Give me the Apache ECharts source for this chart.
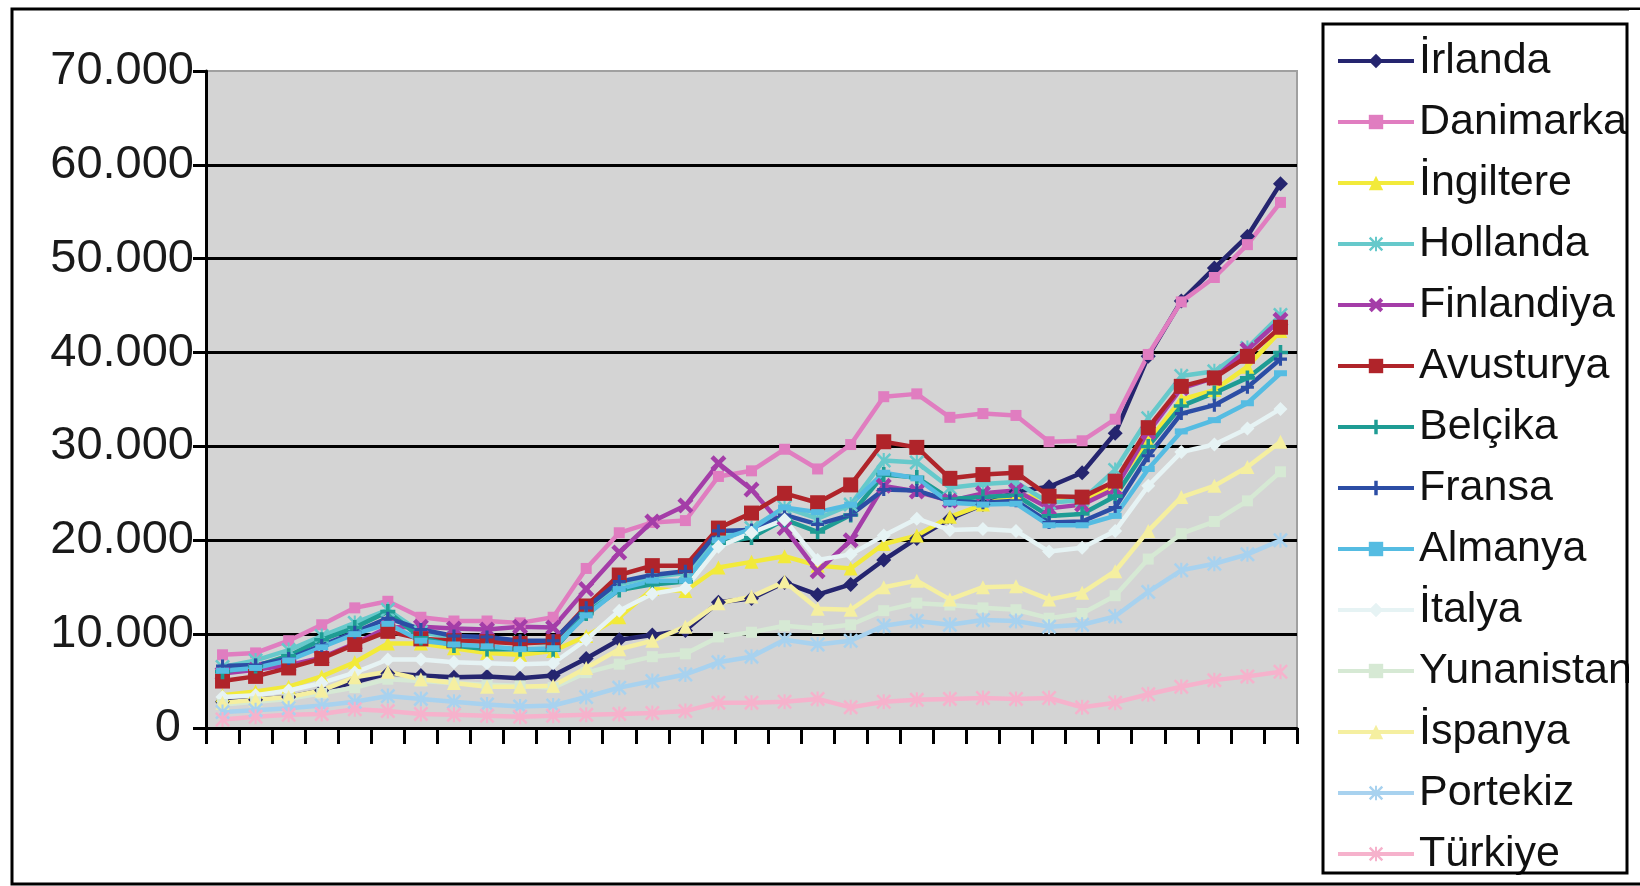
<!DOCTYPE html>
<html>
<head>
<meta charset="utf-8">
<script src="https://cdn.jsdelivr.net/npm/echarts@6/dist/echarts.min.js"></script>
<style>
html,body{margin:0;padding:0;background:#fff;}
#c{width:1640px;height:886px;}
</style>
</head>
<body>
<div id="c"></div>
<script>
const years = [];
for (let y = 1975; y <= 2007; y++) years.push(String(y));
const categories = years;

const seriesNames = ['İrlanda','Danimarka','İngiltere','Hollanda','Finlandiya','Avusturya','Belçika','Fransa','Almanya','İtalya','Yunanistan','İspanya','Portekiz','Türkiye'];

const irlanda    = [2800,3000,3300,4000,4900,5800,5600,5400,5500,5300,5600,7400,9400,9900,10400,13400,13800,15500,14200,15300,17900,20200,22300,23800,25200,25700,27200,31400,39600,45500,49000,52400,58000];
const danimarka  = [7800,8000,9300,11000,12800,13500,11800,11400,11400,11200,11800,17000,20800,21900,22100,26800,27400,29700,27600,30200,35300,35600,33100,33500,33300,30500,30600,32900,39800,45400,48000,51500,56000];
const ingiltere  = [3500,3900,4400,5500,7000,9000,9000,8500,8000,7800,8200,9800,11800,14800,14600,17100,17700,18300,17300,17000,19600,20500,22500,23800,24800,24500,24200,26000,30500,35000,36000,38500,42300];
const hollanda   = [6500,7200,8300,9800,11200,12600,10200,9600,9400,9100,9000,12600,15300,16100,16500,20500,21300,23500,22300,23800,28500,28300,25600,26000,26200,24000,24300,27500,33000,37500,38000,40500,44000];
const finlandiya = [5800,6200,6700,7500,9000,10700,10800,10600,10500,10800,10700,14800,18700,22000,23700,28200,25400,21300,16700,20000,25800,25200,24200,25000,25300,23400,23800,25500,31500,36200,37300,40300,43500];
const avusturya  = [5000,5500,6400,7400,8900,10300,9500,9300,9200,9000,9200,13000,16300,17300,17300,21300,22900,25000,24000,25900,30500,29900,26600,27000,27200,24700,24600,26300,32000,36400,37300,39600,42700];
const belcika    = [6000,6600,7700,9400,10700,12400,9600,8800,8400,8400,8300,12200,14700,15300,15600,19700,20300,22200,20900,22700,27000,26700,24400,24600,24800,22600,22800,24700,30000,34300,35700,37300,40000];
const fransa     = [6600,6700,7400,8800,10200,11700,10500,9800,9700,9300,9300,12800,15600,16300,16700,21000,21100,22700,21700,22700,25400,25300,24200,24000,24200,21900,22000,23500,29000,33500,34400,36300,39300];
const almanya    = [6100,6400,7200,8600,10000,11100,9300,8900,8700,8400,8500,12000,14800,15700,15700,20000,21200,23500,23000,23800,27200,26600,24000,23800,23900,21600,21600,22600,27600,31600,32800,34600,37800];
const italya     = [3300,3500,4000,4800,5900,7300,7300,7000,6900,6800,6900,9400,12500,14300,14900,19300,20800,22200,17900,18500,20500,22300,21100,21200,21000,18800,19200,21000,25800,29400,30200,31900,34000];
const yunanistan = [2500,2800,3100,3700,4300,5200,5000,4800,4600,4500,4300,5900,6800,7600,7900,9700,10200,10900,10600,11000,12500,13300,13100,12800,12600,11700,12200,14100,18000,20700,22000,24200,27300];
const ispanya    = [2700,3000,3300,4000,5400,6000,5200,4800,4400,4400,4500,6400,8400,9300,10800,13300,14000,15600,12700,12600,15000,15700,13700,15000,15100,13700,14400,16700,21000,24600,25800,27800,30500];
const portekiz   = [1700,1900,2100,2400,2800,3400,3100,2800,2500,2300,2400,3300,4300,5000,5700,7000,7600,9400,8900,9300,10900,11400,11000,11500,11400,10800,11000,11900,14500,16800,17500,18500,20000];
const turkiye    = [900,1200,1400,1500,2000,1800,1500,1400,1300,1200,1300,1400,1500,1600,1800,2700,2700,2800,3100,2200,2800,3000,3100,3200,3100,3200,2200,2700,3600,4400,5100,5500,6000];

const yTicks = [0,10000,20000,30000,40000,50000,60000,70000];
const yTickLabels = ['0\u00a0','10.000','20.000','30.000','40.000','50.000','60.000','70.000'];

const allData = [irlanda,danimarka,ingiltere,hollanda,finlandiya,avusturya,belcika,fransa,almanya,italya,yunanistan,ispanya,portekiz,turkiye];

const colors = ['#25256F','#E07DC0','#F2EA3A','#66C9CB','#A43DA8','#B0242A','#1E9C94','#2C4DA5','#55BCE2','#E6F3F4','#D6E9D4','#F5EFA0','#A8D2EF','#F6B2CC'];

const P_X = 'path://M2,0L5,3L8,0L10,2L7,5L10,8L8,10L5,7L2,10L0,8L3,5L0,2Z';
const P_PLUS = 'path://M3.8,0H6.2V3.8H10V6.2H6.2V10H3.8V6.2H0V3.8H3.8Z';
const P_STAR = 'path://M1.2,0L5,3.8L8.8,0L10,1.2L6.2,5L10,8.8L8.8,10L5,6.2L1.2,10L0,8.8L3.8,5L0,1.2Z M4.3,0H5.7V4.3H4.3Z M4.3,5.7H5.7V10H4.3Z';
const symbols = ['diamond','rect','triangle',P_STAR,P_X,'rect',P_PLUS,P_PLUS,'rect','diamond','rect','triangle',P_STAR,P_STAR];
const symSizes = [15,11,14,15,16,15,15,13,[13,6],14,11,14,15,15];

const series = seriesNames.map((n,i)=>({
  name:n, type:'line', data:allData[i],
  symbol:symbols[i], symbolSize:symSizes[i], showAllSymbol:true,
  lineStyle:{color:colors[i], width:4.5},
  itemStyle:{color:colors[i]},
  emphasis:{disabled:true}
}));

const chart = echarts.init(document.getElementById('c'), null, {renderer:'canvas'});
chart.setOption({
  animation:false,
  backgroundColor:'#ffffff',
  color:colors,
  grid:{left:206, top:71, width:1091, height:657, show:true, backgroundColor:'#D4D4D4', borderColor:'#A0A0A0', borderWidth:2},
  xAxis:{
    type:'category', data:categories, boundaryGap:true,
    axisLine:{show:true, lineStyle:{color:'#000', width:3}},
    axisTick:{show:true, interval:0, length:16, lineStyle:{color:'#000', width:3}},
    axisLabel:{show:false},
    splitLine:{show:false}
  },
  yAxis:{
    type:'value', min:0, max:70000, interval:10000,
    axisLine:{show:true, lineStyle:{color:'#000', width:3}},
    axisTick:{show:true, length:13, lineStyle:{color:'#000', width:3}},
    axisLabel:{fontSize:47, fontFamily:'Liberation Sans', color:'#1a1a1a', margin:12,
      formatter:(v)=>{const k=yTicks.indexOf(v); return k>=0?yTickLabels[k]:'';}},
    splitLine:{show:true, showMinLine:false, showMaxLine:false, lineStyle:{color:'#000', width:3}}
  },
  legend:{
    data:seriesNames, orient:'vertical', left:1336, top:39, padding:0,
    itemWidth:76, itemHeight:18, itemGap:17, selectedMode:false,
    lineStyle:{width:4},
    textStyle:{fontSize:43, fontFamily:'Liberation Sans', color:'#111', lineHeight:44}
  },
  graphic:[
    {type:'rect', z:-1, shape:{x:12, y:9, width:1700, height:875}, style:{fill:'none', stroke:'#000', lineWidth:3}},
    {type:'rect', z:0, shape:{x:1323, y:24, width:304, height:849}, style:{fill:'#fff'}},
    {type:'rect', z:10, shape:{x:1629, y:10, width:20, height:870}, style:{fill:'#fff'}},
    {type:'rect', z:11, shape:{x:1323, y:24, width:304, height:849}, style:{fill:'none', stroke:'#000', lineWidth:3}}
  ],
  series:series
});
</script>
</body>
</html>
